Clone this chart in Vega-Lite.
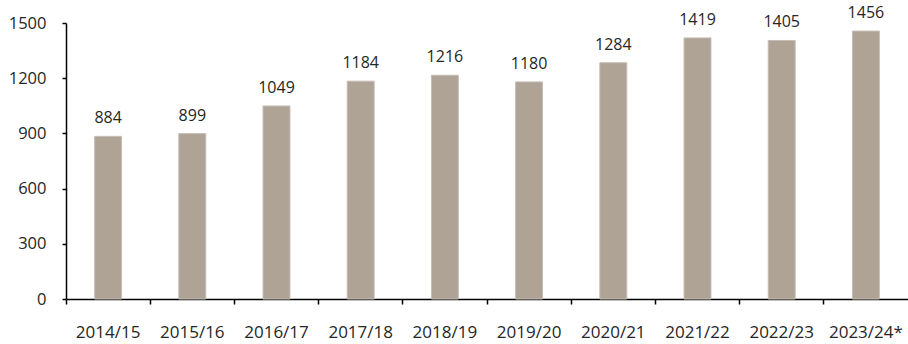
{
  "$schema": "https://vega.github.io/schema/vega-lite/v6.json",
  "autosize": {"type": "none"},
  "width": 842,
  "height": 276,
  "padding": {"left": 66, "top": 23, "right": 0, "bottom": 45},
  "background": "white",
  "config": {"view": {"stroke": null}, "font": "Open Sans"},
  "data": {"values": [
    {"year": "2014/15", "value": 884},
    {"year": "2015/16", "value": 899},
    {"year": "2016/17", "value": 1049},
    {"year": "2017/18", "value": 1184},
    {"year": "2018/19", "value": 1216},
    {"year": "2019/20", "value": 1180},
    {"year": "2020/21", "value": 1284},
    {"year": "2021/22", "value": 1419},
    {"year": "2022/23", "value": 1405},
    {"year": "2023/24*", "value": 1456}
  ]},
  "encoding": {
    "x": {"field": "year", "type": "nominal", "sort": null,
      "scale": {"paddingInner": 0, "paddingOuter": 0},
      "axis": {"title": null, "labelAngle": 0, "bandPosition": 0, "labelFontSize": 17, "labelColor": "#262626",
        "labelPadding": 20, "tickColor": "#000", "tickSize": 5, "tickWidth": 1.5, "domainColor": "#000", "domainWidth": 1.5,
        "labelBound": false, "labelOverlap": false, "labelFlush": false}},
    "y": {"field": "value", "type": "quantitative",
      "scale": {"domain": [0, 1500], "nice": false},
      "axis": {"title": null, "values": [0, 300, 600, 900, 1200, 1500], "format": "d", "grid": false, "labelFontSize": 16.5, "labelColor": "#262626",
        "labelPadding": 16, "tickColor": "#000", "tickSize": 4, "tickWidth": 1.5, "domainColor": "#000", "domainWidth": 1.5}}
  },
  "layer": [
    {"mark": {"type": "bar", "width": {"band": 0.32}, "color": "#afa396", "stroke": "#c4bdb6", "strokeWidth": 1}},
    {"mark": {"type": "text", "dy": -13, "baseline": "alphabetic", "fontSize": 16, "color": "#262626"},
      "encoding": {"text": {"field": "value", "type": "quantitative", "format": "d"}}}
  ]
}
